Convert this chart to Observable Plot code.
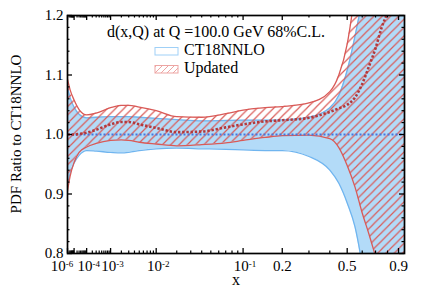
<!DOCTYPE html>
<html><head><meta charset="utf-8">
<script src="https://cdn.jsdelivr.net/npm/d3@7"></script>
<script src="https://cdn.jsdelivr.net/npm/@observablehq/plot@0.6"></script>
<style>
body{margin:0;background:#fff;}
#chart svg{font-family:"Liberation Serif","Times New Roman",serif;}
</style></head><body><div id="chart"></div>
<script>
// x grid (momentum fraction)
const xs          = [1e-6, 3e-6, 1e-5, 3e-5, 1e-4, 3e-4, 1e-3, 2e-3, 3e-3, 5e-3, 1e-2, 0.02, 0.04, 0.07, 0.1, 0.15, 0.2, 0.3, 0.4, 0.45, 0.5, 0.55, 0.6, 0.65, 0.7, 0.75, 0.8, 0.85, 0.9, 0.958];
// CT18NNLO band (ratio to itself)
const ct18Upper   = [1.080,1.062,1.046,1.034,1.028,1.029,1.030,1.030,1.030,1.029,1.027,1.025,1.023,1.0235,1.024,1.024,1.0245,1.029,1.045,1.066,1.108,1.165,1.23,1.32,1.42,1.55,1.70,1.90,2.10,2.40];
const ct18Lower   = [0.915,0.935,0.952,0.965,0.973,0.972,0.970,0.969,0.970,0.973,0.976,0.977,0.976,0.975,0.974,0.973,0.973,0.963,0.940,0.918,0.885,0.845,0.780,0.700,0.620,0.540,0.450,0.350,0.250,0.100];
const ct18Central = [1,1,1,1,1,1,1,1,1,1,1,1,1,1,1,1,1,1,1,1,1,1,1,1,1,1,1,1,1,1];
// Updated band
const updUpper    = [1.093,1.075,1.058,1.042,1.033,1.036,1.045,1.049,1.049,1.046,1.040,1.030,1.029,1.035,1.041,1.045,1.047,1.053,1.072,1.100,1.152,1.240,1.350,1.480,1.620,1.780,1.950,2.150,2.400,2.700];
const updLower    = [0.905,0.930,0.953,0.970,0.979,0.985,0.990,0.991,0.990,0.987,0.984,0.981,0.983,0.986,0.990,0.995,0.998,0.999,0.993,0.978,0.948,0.912,0.868,0.832,0.795,0.760,0.720,0.680,0.640,0.600];
const updCentral  = [1.000,1.000,1.000,1.001,1.003,1.008,1.017,1.021,1.021,1.017,1.011,1.004,1.005,1.012,1.017,1.022,1.024,1.028,1.038,1.044,1.050,1.062,1.085,1.115,1.145,1.180,1.205,1.230,1.260,1.300];

// axis ticks
const xLabelTicks = [1e-6, 1e-4, 1e-3, 1e-2, 0.1, 0.2, 0.5, 0.9];
const xTickLabels = ["10^-6", "10^-4", "10^-3", "10^-2", "10^-1", "0.2", "0.5", "0.9"];
const xMajor = [1e-6, 1e-5, 1e-4, 1e-3, 1e-2, 0.1, 0.2, 0.5, 0.9];
const xMinor = [];
for (const e of [-6,-5,-4,-3,-2]) for (let m = 2; m <= 9; m++) xMinor.push(m * Math.pow(10, e));
xMinor.push(0.3, 0.4, 0.6, 0.7, 0.8);
const yMajor = [0.8, 0.9, 1.0, 1.1, 1.2];
const yMinor = [0.82,0.84,0.86,0.88,0.92,0.94,0.96,0.98,1.02,1.04,1.06,1.08,1.12,1.14,1.16,1.18];

const title = "d(x,Q) at Q =100.0 GeV 68%C.L.";
const seriesNames = ["CT18NNLO", "Updated"];
const yTitle = "PDF Ratio to CT18NNLO";
const xTitle = "x";

const data = xs.map((x, i) => ({x, cu: ct18Upper[i], cl: ct18Lower[i], cc: ct18Central[i],
  uu: updUpper[i], ul: updLower[i], uc: updCentral[i]}));

const W = 421, H = 295, mL = 67, mR = 17, mT = 15, mB = 42;
const pw = W - mL - mR, ph = H - mT - mB;
const blueFill = "#b3dbf8", blueLine = "#70b5ef", redLine = "#d95a57", redDot = "#b3383b", blueDot = "#4476de";
const labelMap = new Map(xLabelTicks.map((t, i) => [t, xTickLabels[i]]));

const plot = Plot.plot({
  width: W, height: H, marginLeft: mL, marginRight: mR, marginTop: mT, marginBottom: mB,
  style: {fontFamily: '"Liberation Serif","Times New Roman",serif', fontSize: "15px", background: "white", color: "black", overflow: "visible"},
  x: {type: "pow", exponent: 0.28, domain: [1e-6, 0.958], axis: null},
  y: {domain: [0.8, 1.2], axis: null},
  marks: [
    Plot.areaY(data, {x: "x", y1: "cl", y2: "cu", fill: blueFill, curve: "monotone-x", clip: true}),
    Plot.lineY(data, {x: "x", y: "cu", stroke: blueLine, strokeWidth: 1.3, curve: "monotone-x", clip: true}),
    Plot.lineY(data, {x: "x", y: "cl", stroke: blueLine, strokeWidth: 1.3, curve: "monotone-x", clip: true}),
    Plot.areaY(data, {x: "x", y1: "ul", y2: "uu", fill: "url(#hatchRed)", curve: "monotone-x", clip: true}),
    Plot.lineY(data, {x: "x", y: "uu", stroke: redLine, strokeWidth: 1.3, curve: "monotone-x", clip: true}),
    Plot.lineY(data, {x: "x", y: "ul", stroke: redLine, strokeWidth: 1.3, curve: "monotone-x", clip: true}),
    Plot.lineY(data, {x: "x", y: "cc", stroke: blueDot, strokeWidth: 2, className: "dotblue", clip: true}),
    Plot.lineY(data, {x: "x", y: "uc", stroke: redDot, strokeWidth: 2.6, className: "dotred", curve: "monotone-x", clip: true}),
    Plot.tickX(xMajor, {x: d => d, stroke: "black", strokeWidth: 1.3, insetTop: ph - 5}),
    Plot.tickX(xMajor, {x: d => d, stroke: "black", strokeWidth: 1.3, insetBottom: ph - 5}),
    Plot.tickX(xMinor, {x: d => d, stroke: "black", strokeWidth: 1.2, insetTop: ph - 2.5}),
    Plot.tickX(xMinor, {x: d => d, stroke: "black", strokeWidth: 1.2, insetBottom: ph - 2.5}),
    Plot.tickY(yMajor, {y: d => d, stroke: "black", strokeWidth: 1.3, insetRight: pw - 5}),
    Plot.tickY(yMajor, {y: d => d, stroke: "black", strokeWidth: 1.3, insetLeft: pw - 5}),
    Plot.tickY(yMinor, {y: d => d, stroke: "black", strokeWidth: 1.2, insetRight: pw - 2.5}),
    Plot.tickY(yMinor, {y: d => d, stroke: "black", strokeWidth: 1.2, insetLeft: pw - 2.5}),
    Plot.frame({stroke: "black", strokeWidth: 1.7}),
    Plot.axisX(xLabelTicks, {tickSize: 0, tickPadding: 7, label: null, tickFormat: d => labelMap.get(d), fontSize: 15}),
    Plot.axisY(yMajor, {tickSize: 0, tickPadding: 4, label: null, tickFormat: d => d.toFixed(1), fontSize: 15})
  ]
});

document.getElementById("chart").appendChild(plot);
const svg = d3.select(plot);

// dotted central lines
svg.selectAll(".dotblue, .dotblue path").attr("stroke-dasharray", "2,2").attr("stroke-linecap", "butt");
svg.selectAll(".dotred, .dotred path").attr("stroke-dasharray", "2.4,1.8").attr("stroke-linecap", "butt");

// hatch patterns: explicit "/" diagonals (lower-left to upper-right)
function addHatch(id, s, color, sw) {
  const p = defs.append("pattern").attr("id", id).attr("patternUnits", "userSpaceOnUse")
    .attr("width", s).attr("height", s);
  p.append("path")
    .attr("d", `M0,${s} L${s},0 M${-s/4},${s/4} L${s/4},${-s/4} M${s*3/4},${s*5/4} L${s*5/4},${s*3/4}`)
    .attr("stroke", color).attr("stroke-width", sw).attr("fill", "none");
}
const defs = svg.insert("defs", ":first-child");
addHatch("hatchRed", 8.3, redLine, 1.2);
addHatch("hatchRedLight", 6, "#eda5a3", 1);

// superscripts on x tick labels
svg.selectAll('g[aria-label="x-axis tick label"] text').each(function(d, i) {
  const t = d3.select(this);
  const s = t.text();
  if (s.includes("^")) {
    const [base, exp] = s.split("^");
    t.text(base);
    t.append("tspan").attr("dy", "-0.45em").attr("font-size", "9px").text(exp);
    t.attr("dx", i === 0 ? -5.5 : 2);
  }
});

// axis titles
svg.append("text").attr("transform", `translate(21,${mT + ph / 2}) rotate(-90)`)
  .attr("text-anchor", "middle").attr("font-size", "15px").attr("fill", "black").text(yTitle);
svg.append("text").attr("x", 236).attr("y", 285).attr("text-anchor", "middle")
  .attr("font-size", "16px").attr("fill", "black").text(xTitle);

// legend
svg.append("text").attr("x", 216).attr("y", 37).attr("text-anchor", "middle")
  .attr("font-size", "16px").attr("fill", "black").text(title);
svg.append("rect").attr("x", 155).attr("y", 47.5).attr("width", 23).attr("height", 7.5)
  .attr("fill", "white").attr("stroke", "#9fd0f7").attr("stroke-width", 1);
svg.append("text").attr("x", 184).attr("y", 55).attr("text-anchor", "start").attr("font-size", "16px").attr("fill", "black").text(seriesNames[0]);
svg.append("rect").attr("x", 155).attr("y", 65.5).attr("width", 23).attr("height", 7.5)
  .attr("fill", "url(#hatchRedLight)").attr("stroke", "#eda5a3").attr("stroke-width", 1);
svg.append("text").attr("x", 184).attr("y", 73).attr("text-anchor", "start").attr("font-size", "16px").attr("fill", "black").text(seriesNames[1]);
</script></body></html>
